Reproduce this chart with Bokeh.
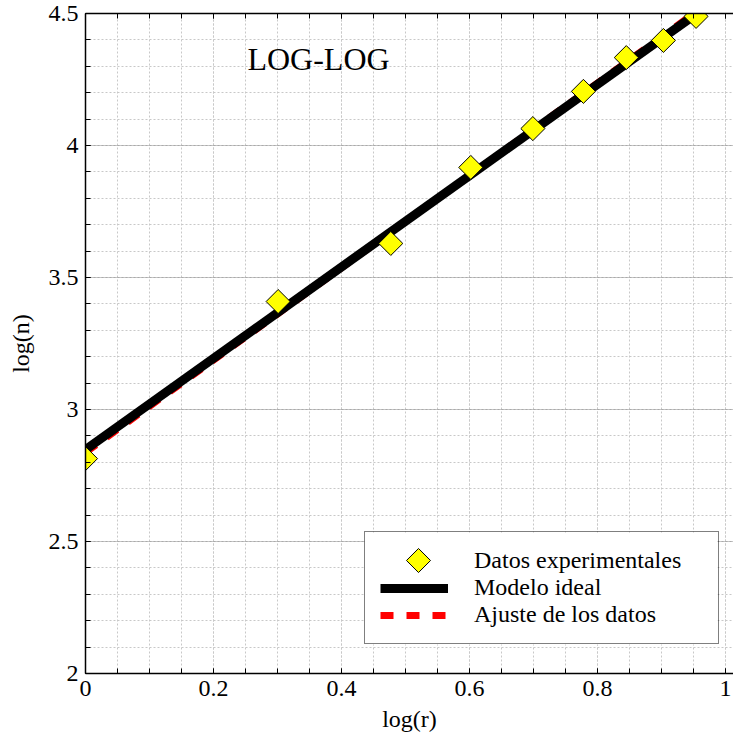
import numpy as np
from bokeh.plotting import figure
from bokeh.models import (FixedTicker, LinearAxis, Legend, LegendItem, Label, Range1d)
from bokeh.embed import file_html
from bokeh.resources import INLINE

# ---- data ----
log_r = [0.0, 0.301, 0.477, 0.602, 0.699, 0.778, 0.845, 0.903, 0.954]
log_n = [2.814, 3.409, 3.629, 3.917, 4.064, 4.205, 4.333, 4.398, 4.489]
model_x = [0.0, 0.954]
model_y = [2.848, 4.498]
fit_x = [0.0, 0.954]
fit_y = [2.837, 4.506]

x_ticks = [0.0, 0.2, 0.4, 0.6, 0.8, 1.0]
x_tick_labels = ["0", "0.2", "0.4", "0.6", "0.8", "1"]
y_ticks = [2.0, 2.5, 3.0, 3.5, 4.0, 4.5]
y_tick_labels = ["2", "2.5", "3", "3.5", "4", "4.5"]
x_minor = [round(0.05 * i, 2) for i in range(22)]
y_minor = [round(2.0 + 0.1 * i, 1) for i in range(26)]

FONT = "Liberation Serif"

W, H = 733, 742
LEFT, TOP, BOTTOM = 85, 13, 69
PX_PER_X = 640.0
FRAME_H = H - BOTTOM - TOP
Y0, Y1 = 2.0, 4.5


def px_to_x(px):
    return (px - LEFT) / PX_PER_X


def py_to_y(py):
    return Y1 - (py - TOP) * (Y1 - Y0) / FRAME_H


p = figure(width=W, height=H, output_backend="svg", toolbar_location=None,
           x_range=Range1d(0, (W - LEFT) / PX_PER_X), y_range=Range1d(Y0, Y1),
           min_border_left=LEFT, min_border_right=0, min_border_top=TOP,
           min_border_bottom=BOTTOM)
p.outline_line_color = None
p.background_fill_color = "white"
p.border_fill_color = "white"

xt = FixedTicker(ticks=x_ticks, minor_ticks=x_minor)
yt = FixedTicker(ticks=y_ticks, minor_ticks=y_minor)
p.xaxis.ticker = xt
p.yaxis.ticker = yt
p.xaxis.major_label_overrides = {t: l for t, l in zip(x_ticks, x_tick_labels)}
p.yaxis.major_label_overrides = {t: l for t, l in zip(y_ticks, y_tick_labels)}

for ax in (p.xaxis[0], p.yaxis[0]):
    ax.axis_line_color = "black"
    ax.axis_line_width = 1.5
    ax.major_tick_in = 5
    ax.major_tick_out = 0
    ax.minor_tick_in = 5
    ax.minor_tick_out = 0
    ax.major_tick_line_color = "black"
    ax.minor_tick_line_color = "black"
    ax.major_label_text_font = FONT
    ax.major_label_text_font_size = "24px"
    ax.major_label_text_color = "black"
    ax.axis_label_text_font = FONT
    ax.axis_label_text_font_size = "24px"
    ax.axis_label_text_font_style = "normal"
    ax.axis_label_text_color = "black"

p.xaxis.axis_label = "log(r)"
p.yaxis.axis_label = "log(n)"
p.xaxis.major_label_standoff = 7
p.xaxis.axis_label_standoff = 7
p.yaxis.major_label_standoff = 7
p.yaxis.axis_label_standoff = 12

top = LinearAxis(ticker=xt, major_label_text_font_size="0px", major_label_text_alpha=0,
                 major_label_standoff=0, axis_line_color="black", axis_line_width=1.5,
                 major_tick_in=5, major_tick_out=0, minor_tick_in=5, minor_tick_out=0)
p.add_layout(top, "above")

p.xgrid.ticker = xt
p.ygrid.ticker = yt
p.xgrid.grid_line_color = "#c8c8c8"
p.xgrid.grid_line_dash = "2 2"
p.xgrid.minor_grid_line_color = "#c8c8c8"
p.xgrid.minor_grid_line_dash = "2 2"
p.ygrid.grid_line_color = "#8c8c8c"
p.ygrid.grid_line_dash = "1 1"
p.ygrid.minor_grid_line_color = "#c8c8c8"
p.ygrid.minor_grid_line_dash = "2 2"

r_fit = p.line(fit_x, fit_y, line_color="red", line_width=7, line_dash="13 13")
r_model = p.line(model_x, model_y, line_color="black", line_width=9)
r_pts = p.scatter(log_r, log_n, marker="square", angle=np.pi / 4, size=17,
                  fill_color="yellow", line_color="black", line_width=1)

# legend geometry (pixels of the page): box 364..717 x 532..644
LEG_L, LEG_R, LEG_T, LEG_B = 364, 717, 532, 644
# white background of the legend box (legend itself drawn transparent on top)
p.quad(left=[px_to_x(LEG_L)], right=[px_to_x(LEG_R)],
       bottom=[py_to_y(LEG_B)], top=[py_to_y(LEG_T)],
       fill_color="white", line_color=None)

# legend symbol for the marker row: a rotated square (diamond)
sym_x = [px_to_x(418)]
sym_y = [py_to_y(560)]
r_leg_placeholder = p.scatter(sym_x, sym_y, marker="square", size=17,
                              fill_alpha=0, line_alpha=0)
r_leg_symbol = p.scatter(sym_x, sym_y, marker="square", angle=np.pi / 4, size=17,
                         fill_color="yellow", line_color="black", line_width=1)

title = Label(x=0.253, y=4.326, text="LOG-LOG", text_font=FONT, text_font_size="32px",
              text_color="black", text_baseline="alphabetic")
p.add_layout(title)

legend = Legend(items=[LegendItem(label="Datos experimentales", renderers=[r_leg_placeholder]),
                       LegendItem(label="Modelo ideal", renderers=[r_model]),
                       LegendItem(label="Ajuste de los datos", renderers=[r_fit])],
                location=(LEG_L - LEFT, H - BOTTOM - LEG_B), orientation="vertical",
                padding=15, spacing=0, margin=0,
                glyph_width=68, glyph_height=20, label_height=27, label_width=229,
                label_standoff=26,
                label_text_font=FONT, label_text_font_size="24px", label_text_color="black",
                border_line_color="black", border_line_width=1,
                background_fill_alpha=0.0)
p.add_layout(legend)

open("out.html", "w").write(file_html(p, INLINE))
